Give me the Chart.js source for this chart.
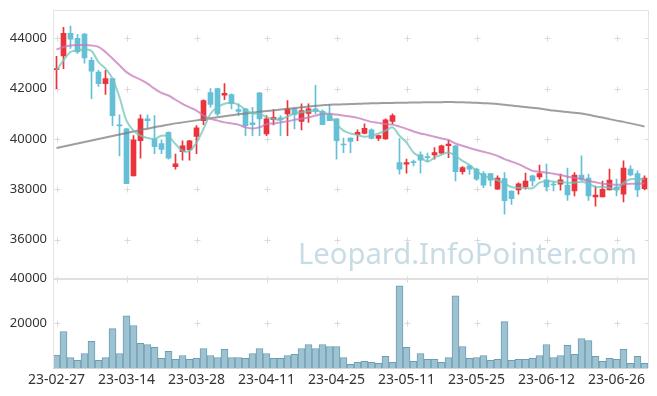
<!DOCTYPE html>
<html>
<head>
<meta charset="utf-8">
<script src="https://cdn.jsdelivr.net/npm/chart.js@4.4.0/dist/chart.umd.min.js"></script>
<style>
  html, body { margin: 0; padding: 0; background: #fff; }
  #wrap { width: 657px; height: 396px; position: relative; }
</style>
</head>
<body>
<div id="wrap"><canvas id="stockChart"></canvas></div>
<script>
// trading days shown on the chart
const dates = [
  '23-02-27','23-02-28','23-03-02','23-03-03','23-03-06','23-03-07','23-03-08','23-03-09','23-03-10','23-03-13',
  '23-03-14','23-03-15','23-03-16','23-03-17','23-03-20','23-03-21','23-03-22','23-03-23','23-03-24','23-03-27',
  '23-03-28','23-03-29','23-03-30','23-03-31','23-04-03','23-04-04','23-04-05','23-04-06','23-04-07','23-04-10',
  '23-04-11','23-04-12','23-04-13','23-04-14','23-04-17','23-04-18','23-04-19','23-04-20','23-04-21','23-04-24',
  '23-04-25','23-04-26','23-04-27','23-04-28','23-05-02','23-05-03','23-05-04','23-05-08','23-05-09','23-05-10',
  '23-05-11','23-05-12','23-05-15','23-05-16','23-05-17','23-05-18','23-05-19','23-05-22','23-05-23','23-05-24',
  '23-05-25','23-05-26','23-05-30','23-05-31','23-06-01','23-06-02','23-06-05','23-06-07','23-06-08','23-06-09',
  '23-06-12','23-06-13','23-06-14','23-06-15','23-06-16','23-06-19','23-06-20','23-06-21','23-06-22','23-06-23',
  '23-06-26','23-06-27','23-06-28','23-06-29','23-06-30'
];

const openP = [
  42760,43300,44200,44000,44170,43130,42660,42200,42400,40540,
  40400,38530,39930,40800,40000,39820,40260,38900,39490,39570,
  40100,40730,41850,42000,41740,41770,41170,41200,40640,41840,
  40200,40770,40840,41000,41200,40700,41020,41200,41100,40970,
  40800,39800,40040,40170,40220,40360,40020,40000,40700,39060,
  39000,39080,39370,39280,39370,39440,39730,39730,38700,38930,
  38800,38620,38620,38000,38420,37930,37970,38090,38530,38490,
  38370,38180,38200,38170,37930,38560,38440,37690,37690,37970,
  38090,37800,38800,38620,38020
];
const highP = [
  43290,44440,44490,44160,44200,43240,42730,42730,42420,40960,
  40420,40130,40960,40960,40930,39970,40280,39400,39930,39950,
  40530,41560,42000,42010,42200,41800,41400,41210,41260,41850,
  40930,41160,40930,41530,41210,41400,41400,42130,41160,41370,
  40810,40040,40050,40360,40600,40400,40150,40800,41000,40020,
  39200,39160,39490,39440,39660,39760,39960,39740,38900,38940,
  38840,38700,38630,38530,38660,37940,38260,38640,38560,38960,
  39000,38320,38600,38840,38660,39330,38600,38130,38330,38800,
  38400,39130,38930,38730,38530
];
const lowP = [
  42000,42800,43600,43400,43020,41600,42090,41770,40530,39330,
  38220,38530,39240,40440,39420,39420,39200,38800,39160,39160,
  39420,40570,41260,40930,41560,41200,40930,40130,40130,40130,
  40130,40560,40130,40130,40400,40360,40660,41000,40570,40730,
  39200,39460,39460,39930,40200,40000,39930,39980,40600,38600,
  38640,38930,38640,39100,39200,39420,39260,38330,38600,38600,
  38350,38060,38130,37990,37010,37400,37800,38000,38130,38400,
  37930,37930,37960,37560,37730,38350,37560,37330,37690,37970,
  37730,37500,38530,37700,37970
];
const closeP = [
  42800,44200,43970,43460,43220,42700,42200,42400,40930,40520,
  38220,39970,40800,40730,39690,39580,39240,39010,39730,39930,
  40440,41530,41370,41000,41820,41400,41100,40530,40570,40800,
  40800,40860,40760,41200,40970,41130,41200,41100,40570,40730,
  39930,39760,39900,40260,40420,40020,40130,40760,40930,38800,
  39060,39060,39160,39260,39460,39730,39800,38700,38860,38800,
  38400,38160,38360,38440,37550,37630,38220,38330,38330,38620,
  38090,38170,38370,37770,38560,38400,37730,37770,38000,38360,
  37970,38840,38570,37970,38440
];

// moving averages as drawn on the chart
const ma5 = [
  42730,43130,43460,43530,43560,43500,43060,42800,42400,41660,
  40730,40330,40130,40040,40000,40130,40090,39800,39530,39530,
  39860,40400,41000,41260,41400,41440,41360,41160,41020,41000,
  40870,40800,40770,40890,41020,41060,41100,41130,41060,40930,
  40600,40330,40220,40160,40090,40130,40220,40330,40460,40130,
  39860,39460,39290,39100,39260,39370,39460,39330,39130,38970,
  38730,38530,38460,38360,38230,38090,38060,38050,38040,38260,
  38330,38300,38290,38260,38260,38300,38220,38090,38090,38060,
  38000,38260,38400,38400,38400
];
const ma20 = [
  43560,43660,43720,43740,43740,43720,43660,43460,43200,42930,
  42660,42490,42360,42200,42000,41830,41730,41560,41400,41260,
  41130,40930,40800,40730,40660,40620,40570,40460,40420,40460,
  40590,40620,40660,40700,40760,40800,40860,40930,41000,41000,
  40970,40930,40890,40840,40760,40680,40640,40600,40570,40490,
  40400,40300,40220,40160,40090,40020,39960,39820,39730,39640,
  39560,39490,39420,39330,39200,39100,39000,38860,38730,38700,
  38660,38620,38570,38500,38460,38400,38330,38280,38220,38200,
  38180,38200,38220,38220,38240
];
const ma60 = [
  39640,39700,39760,39820,39880,39940,40000,40060,40120,40180,
  40240,40300,40360,40410,40470,40520,40570,40620,40660,40700,
  40740,40780,40820,40860,40900,40940,40980,41010,41040,41080,
  41110,41140,41170,41200,41230,41260,41290,41320,41340,41360,
  41370,41380,41390,41400,41410,41420,41425,41430,41435,41440,
  41445,41450,41455,41460,41462,41465,41466,41465,41460,41450,
  41440,41425,41410,41390,41360,41330,41300,41270,41240,41210,
  41170,41130,41100,41070,41040,41010,40960,40900,40850,40790,
  40730,40680,40620,40560,40500
];

const volume = [
  5800,16300,4700,3400,6500,11900,3400,4700,17600,6500,
  23300,19000,11000,10500,9200,4300,7400,3900,5600,3900,
  4300,8700,5600,4700,8300,4700,4700,4300,6500,8700,
  6500,4300,4300,5600,6100,8700,10500,8700,10500,9600,
  9600,4700,1600,2500,3000,2500,2100,5200,2500,36700,
  9200,3000,6500,3900,3900,2500,4700,32300,9600,4300,
  4700,5600,3400,3900,20700,3400,3900,3900,4300,5600,
  10500,4700,5600,10100,6100,13200,12300,5200,3000,4300,
  3900,8300,2100,5200,2100
];

const priceTicks = [36000, 38000, 40000, 42000, 44000];
const volumeTicks = [20000, 40000];

const UP = '#eb333b';
const DOWN = '#65bfd6';
const candleColors = openP.map((o, i) => closeP[i] >= o ? UP : DOWN);

// grid crosses, watermark and panel borders
const decor = {
  id: 'decor',
  beforeDatasetsDraw(chart) {
    const { ctx, chartArea: a, scales } = chart;
    const py = scales.y;
    ctx.save();
    // watermark
    const text = 'Leopard.InfoPointer.com';
    ctx.font = '34px "Noto Sans"';
    const w = ctx.measureText(text).width;
    const size = 34 * 339 / w;
    ctx.font = size.toFixed(2) + 'px "Noto Sans"';
    ctx.fillStyle = '#c8dce6';
    ctx.textAlign = 'right';
    ctx.textBaseline = 'alphabetic';
    ctx.fillText(text, a.right - 11, py.bottom - 15);

    // little crosses where ticks meet
    ctx.strokeStyle = '#dadada';
    ctx.lineWidth = 1;
    const xs = dates.map((d, i) => i).filter(i => i % 10 === 0)
      .map(i => Math.round(scales.x.getPixelForValue(i)) + 0.5);
    const ys = priceTicks.map(v => py.getPixelForValue(v))
      .concat(volumeTicks.map(v => scales.yv.getPixelForValue(v)))
      .map(v => Math.round(v) + 0.5);
    ctx.beginPath();
    xs.forEach(x => ys.forEach(y => {
      ctx.moveTo(x - 3, y); ctx.lineTo(x + 3, y);
      ctx.moveTo(x, y - 3); ctx.lineTo(x, y + 3);
    }));
    ys.forEach(y => {
      ctx.moveTo(a.right - 3, y); ctx.lineTo(a.right, y);
    });
    ctx.stroke();
    ctx.restore();
  },
  afterDatasetsDraw(chart) {
    const { ctx, chartArea: a, scales } = chart;
    ctx.save();
    ctx.strokeStyle = '#e3e3e3';
    ctx.lineWidth = 1;
    ctx.beginPath();
    ctx.moveTo(a.left + 0.5, a.top + 0.5);
    ctx.lineTo(a.right + 0.5, a.top + 0.5);
    ctx.lineTo(a.right + 0.5, a.bottom);
    ctx.moveTo(a.left + 0.5, a.top);
    ctx.lineTo(a.left + 0.5, a.bottom);
    ctx.stroke();
    ctx.strokeStyle = '#e0e0e0';
    ctx.lineWidth = 2;
    ctx.beginPath();
    const sep = Math.round(scales.yv.top);
    ctx.moveTo(a.left, sep); ctx.lineTo(a.right, sep);
    ctx.stroke();
    ctx.strokeStyle = '#d4d4d4';
    ctx.lineWidth = 1;
    ctx.beginPath();
    ctx.moveTo(a.left, Math.round(a.bottom) + 0.5);
    ctx.lineTo(a.right, Math.round(a.bottom) + 0.5);
    ctx.stroke();
    ctx.restore();
  }
};

const lineDs = (data, color) => ({
  type: 'line', data, yAxisID: 'y', borderColor: color, borderWidth: 2,
  pointRadius: 0, tension: 0.35, fill: false, order: 0
});

// keep label overhang from pushing the plot area around
const fitY = s => { s.width = 53; s.paddingTop = 0; s.paddingBottom = 0; };

const ctx = document.getElementById('stockChart').getContext('2d');
const stockChart = new Chart(ctx, {
  type: 'bar',
  data: {
    labels: dates,
    datasets: [
      lineDs(ma5, 'rgba(110,196,186,0.75)'),
      lineDs(ma20, 'rgba(196,120,186,0.75)'),
      lineDs(ma60, 'rgba(125,125,125,0.75)'),
      {
        data: lowP.map((l, i) => [l, highP[i]]), yAxisID: 'y',
        backgroundColor: candleColors, barThickness: 1, grouped: false, order: 2
      },
      {
        data: openP.map((o, i) => [o, closeP[i]]), yAxisID: 'y',
        backgroundColor: candleColors, barThickness: 5, minBarLength: 1,
        grouped: false, order: 1
      },
      {
        data: volume, yAxisID: 'yv',
        backgroundColor: '#9dc2d2', borderColor: '#6e9db3', borderWidth: 1,
        barPercentage: 1, categoryPercentage: 1, grouped: false, order: 3
      }
    ]
  },
  options: {
    responsive: true,
    maintainAspectRatio: false,
    animation: false,
    layout: { padding: { top: 10, right: 9, left: 0, bottom: 0 } },
    plugins: { legend: { display: false }, tooltip: { enabled: false } },
    scales: {
      x: {
        offset: true,
        grid: { display: false, drawTicks: false },
        border: { display: false },
        ticks: {
          autoSkip: false, maxRotation: 0, padding: 4, color: '#333',
          font: { family: 'Noto Sans', size: 14 },
          callback: (v, i) => i % 10 === 0 ? dates[i] : ''
        },
        afterFit: s => { s.height = 28; s.paddingLeft = 0; s.paddingRight = 0; }
      },
      // volume pane is listed first so that it ends up below the price pane
      yv: {
        position: 'left', stack: 'panes', stackWeight: 89,
        min: 0, max: 40000,
        grid: { display: false, drawTicks: false },
        border: { display: false },
        ticks: { padding: 6, color: '#333', font: { family: 'Noto Sans', size: 13 }, callback: v => String(v) },
        afterBuildTicks: s => { s.ticks = volumeTicks.map(v => ({ value: v })); },
        afterFit: fitY
      },
      y: {
        position: 'left', stack: 'panes', stackWeight: 267,
        min: 34450, max: 45130,
        grid: { display: false, drawTicks: false },
        border: { display: false },
        ticks: { padding: 6, color: '#333', font: { family: 'Noto Sans', size: 13 }, callback: v => String(v) },
        afterBuildTicks: s => { s.ticks = priceTicks.map(v => ({ value: v })); },
        afterFit: fitY
      }
    }
  },
  plugins: [decor]
});
</script>
</body>
</html>
